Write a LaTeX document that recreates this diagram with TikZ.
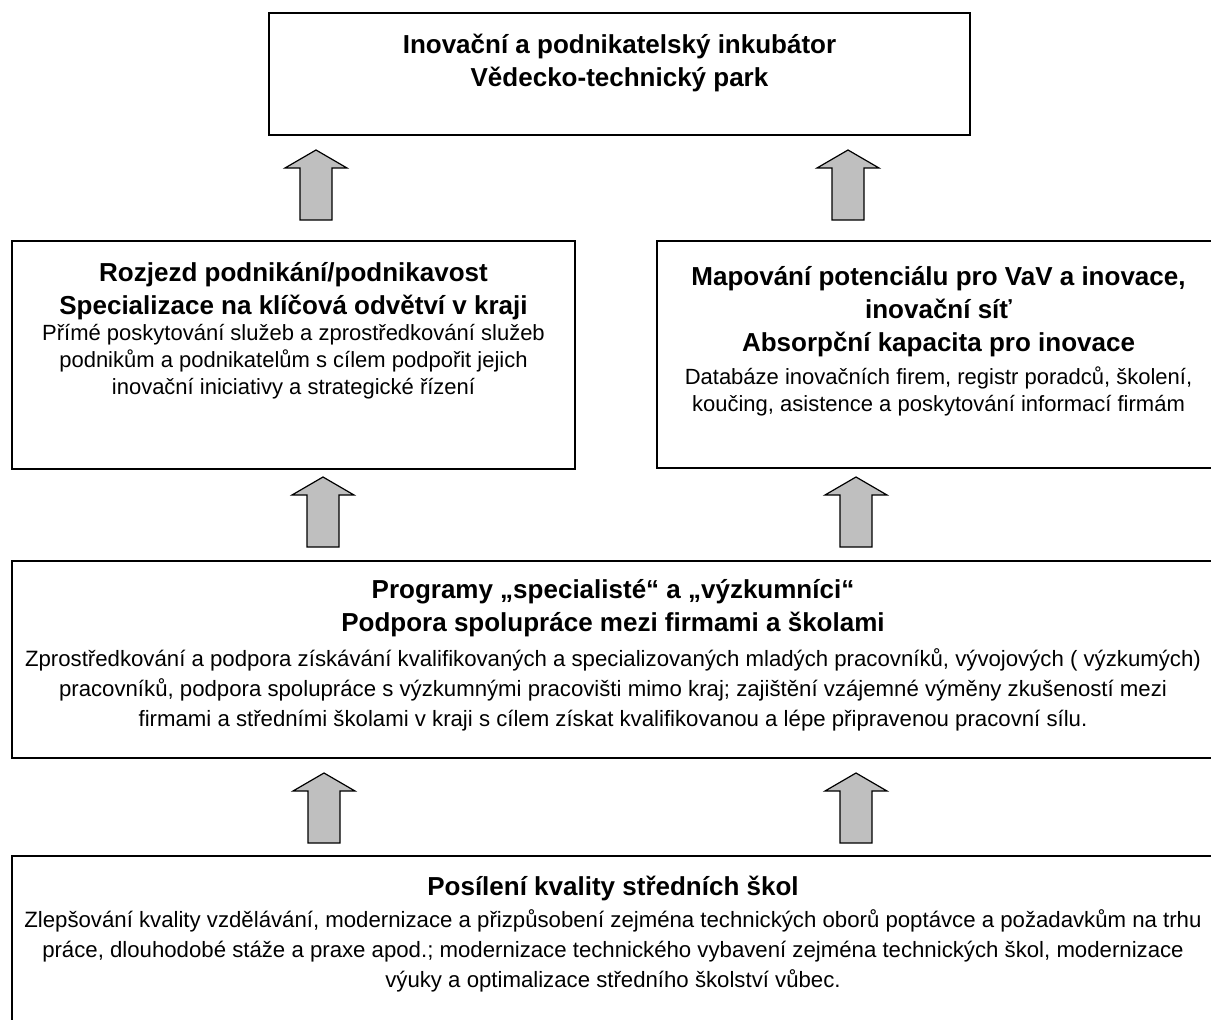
\documentclass[tikz,border=0pt]{standalone}
\usepackage{fontspec}
\setmainfont{Liberation Sans}
\usetikzlibrary{positioning}
\tikzset{
  block/.style={draw, line width=1.5pt, fill=white},
  headtext/.style={align=center, inner sep=0pt, font=\fontsize{26}{33}\selectfont\bfseries},
  bodytext/.style={align=center, inner sep=0pt, font=\fontsize{22}{27}\selectfont},
  widebody/.style={bodytext, font=\fontsize{22.2}{30}\selectfont},
  uparrow/.style={draw, line width=1.2pt, fill=black!25, line join=miter},
}

\begin{document}
\begin{tikzpicture}[x=1pt,y=-1pt]
  \useasboundingbox (0,0) rectangle (1211,1020);
  \clip (0,0) rectangle (1211,1020);
  \node[block, minimum width=701pt, minimum height=122pt] (park) at (619.5,74) {};
  \node[block, minimum width=563pt, minimum height=228pt] (podnik) at (293.5,355) {};
  \node[block, minimum width=563pt, minimum height=227pt] (mapa) at (938.5,354.5) {};
  \node[block, minimum width=1202pt, minimum height=197pt] (program) at (613,659.5) {};
  \node[block, minimum width=1202pt, minimum height=190pt] (skoly) at (613,951) {};
  % texts
  \node[headtext, below=22pt of park.north] (parkT) {Inovační a podnikatelský inkubátor\\Vědecko-technický park};
  \node[headtext, below=22pt of podnik.north] (podnikT) {Rozjezd podnikání/podnikavost\\Specializace na klíčová odvětví v kraji};
  \node[bodytext, below=4pt of podnikT] (podnikB) {Přímé poskytování služeb a zprostředkování služeb\\podnikům a podnikatelům s cílem podpořit jejich\\inovační iniciativy a strategické řízení};
  \node[headtext, below=26pt of mapa.north] (mapaT) {Mapování potenciálu pro VaV a inovace,\\inovační síť\\Absorpční kapacita pro inovace};
  \node[bodytext, below=9pt of mapaT] (mapaB) {Databáze inovačních firem, registr poradců, školení,\\koučing, asistence a poskytování informací firmám};
  \node[headtext, below=19pt of program.north] (programT) {Programy „specialisté“ a „výzkumníci“\\Podpora spolupráce mezi firmami a školami};
  \node[widebody, below=11pt of programT] (programB) {Zprostředkování a podpora získávání kvalifikovaných a specializovaných mladých pracovníků, vývojových ( výzkumých)\\pracovníků, podpora spolupráce s výzkumnými pracovišti mimo kraj; zajištění vzájemné výměny zkušeností mezi\\firmami a středními školami v kraji s cílem získat kvalifikovanou a lépe připravenou pracovní sílu.};
  \node[headtext, below=21pt of skoly.north] (skolyT) {Posílení kvality středních škol};
  \node[widebody, below=8pt of skolyT] (skolyB) {Zlepšování kvality vzdělávání, modernizace a přizpůsobení zejména technických oborů poptávce a požadavkům na trhu\\práce, dlouhodobé stáže a praxe apod.; modernizace technického vybavení zejména technických škol, modernizace\\výuky a optimalizace středního školství vůbec.};
  % block arrows
  \foreach \x/\y in {316/150, 848/150, 323/477, 856/477, 324/773, 856/773}
    \draw[uparrow] (\x,\y) -- ++(31,18) -- ++(-15,0) -- ++(0,52) -- ++(-32,0) -- ++(0,-52) -- ++(-15,0) -- cycle;
\end{tikzpicture}
\end{document}
